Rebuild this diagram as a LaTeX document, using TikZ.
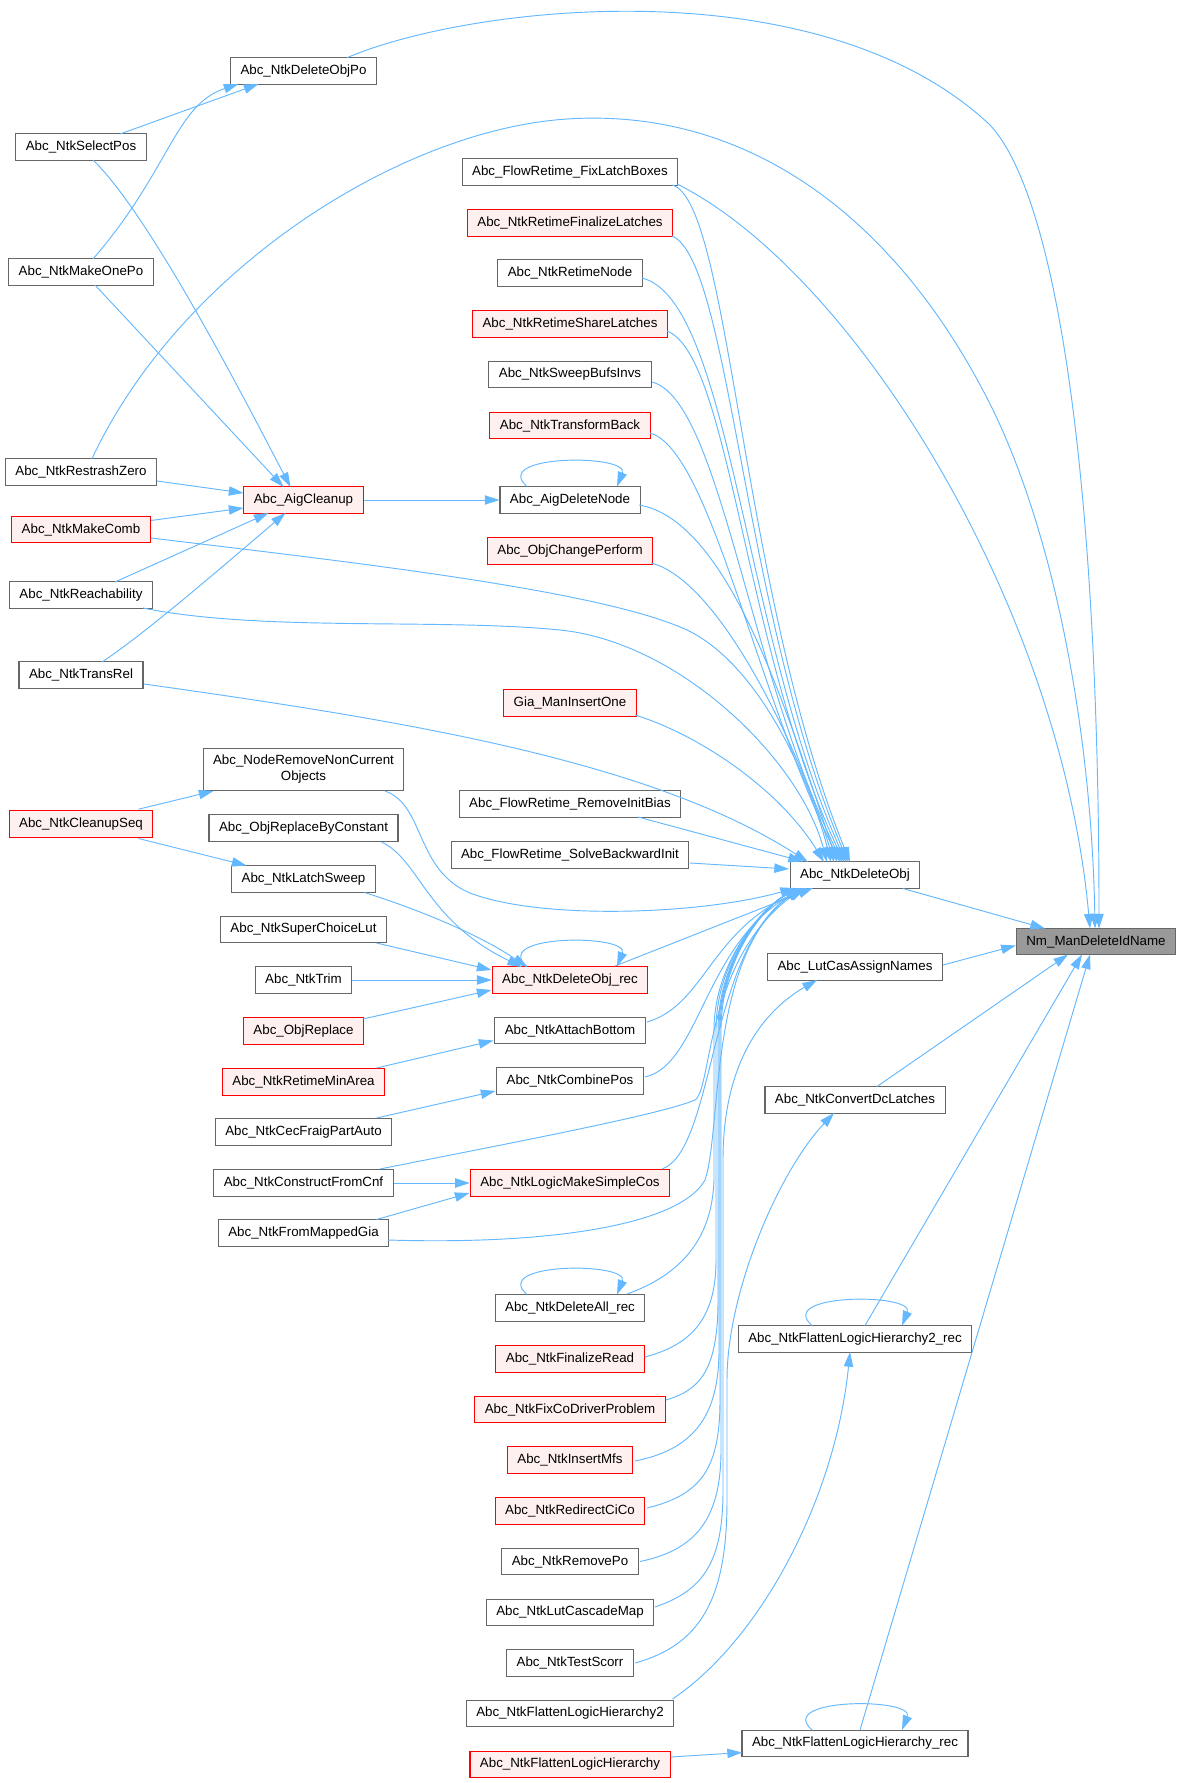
\documentclass[tikz,border=0pt]{standalone}
\usepackage{fontspec}
\setmainfont{Liberation Sans}
\usetikzlibrary{arrows.meta,calc}
\definecolor{edgec}{HTML}{63B8FF}
\definecolor{nodeb}{HTML}{666666}
\definecolor{redfill}{HTML}{FFF0F0}
\definecolor{mainfill}{HTML}{999999}
\definecolor{redb}{HTML}{FF0000}
\begin{document}
\begin{tikzpicture}[x=0.75pt,y=-0.75pt,
 fn/.style={draw=nodeb,fill=white,line width=0.8pt,inner xsep=7.5pt,inner ysep=1pt,minimum height=20pt,font=\fontsize{10}{12}\selectfont,text=black},
 fnr/.style={fn,draw=redb,fill=redfill},
 fnm/.style={fn,fill=mainfill},
 edge/.style={draw=edgec,line width=0.7pt,-{Triangle[length=11pt,width=7pt]}}]
\fill[white] (0,0) rectangle (1179,1783);
\useasboundingbox (0,0) rectangle (1179,1783);
% column A
\node[fn] (SelectPos) at (81,147) {Abc\_NtkSelectPos};
\node[fn] (MakeOnePo) at (81,272) {Abc\_NtkMakeOnePo};
\node[fn] (RestrashZero) at (81,472) {Abc\_NtkRestrashZero};
\node[fnr] (MakeComb) at (81,529.5) {Abc\_NtkMakeComb};
\node[fn] (Reachability) at (81,595) {Abc\_NtkReachability};
\node[fn] (TransRel) at (81,675) {Abc\_NtkTransRel};
\node[fnr] (CleanupSeq) at (81,824) {Abc\_NtkCleanupSeq};
% column B
\node[fn] (DeleteObjPo) at (303.5,71) {Abc\_NtkDeleteObjPo};
\node[fnr] (AigCleanup) at (303.5,500) {Abc\_AigCleanup};
\node[fn,align=center,minimum height=32pt] (NodeRemove) at (303.5,769.5) {Abc\_NodeRemoveNonCurrent\\Objects};
\node[fn] (ReplaceByConst) at (303.5,828) {Abc\_ObjReplaceByConstant};
\node[fn] (LatchSweep) at (303.5,879) {Abc\_NtkLatchSweep};
\node[fn] (SuperChoiceLut) at (303.5,929.5) {Abc\_NtkSuperChoiceLut};
\node[fn] (NtkTrim) at (303.5,980) {Abc\_NtkTrim};
\node[fnr] (ObjReplace) at (303.5,1031) {Abc\_ObjReplace};
\node[fnr] (RetimeMinArea) at (303.5,1082) {Abc\_NtkRetimeMinArea};
\node[fn] (CecFraig) at (303.5,1132) {Abc\_NtkCecFraigPartAuto};
\node[fn] (ConstructFromCnf) at (303.5,1183) {Abc\_NtkConstructFromCnf};
\node[fn] (FromMappedGia) at (303.5,1233) {Abc\_NtkFromMappedGia};
% column C
\node[fn] (FixLatch) at (570,172) {Abc\_FlowRetime\_FixLatchBoxes};
\node[fnr] (FinalizeLatches) at (570,223) {Abc\_NtkRetimeFinalizeLatches};
\node[fn] (RetimeNode) at (570,273) {Abc\_NtkRetimeNode};
\node[fnr] (ShareLatches) at (570,324) {Abc\_NtkRetimeShareLatches};
\node[fn] (SweepBufs) at (570,374.5) {Abc\_NtkSweepBufsInvs};
\node[fnr] (TransformBack) at (570,425.5) {Abc\_NtkTransformBack};
\node[fn] (AigDeleteNode) at (570,500) {Abc\_AigDeleteNode};
\node[fnr] (ObjChange) at (570,551) {Abc\_ObjChangePerform};
\node[fnr] (GiaInsert) at (570,703) {Gia\_ManInsertOne};
\node[fn] (RemoveInitBias) at (570,804) {Abc\_FlowRetime\_RemoveInitBias};
\node[fn] (SolveBackward) at (570,855) {Abc\_FlowRetime\_SolveBackwardInit};
\node[fnr] (DeleteObjRec) at (570,980) {Abc\_NtkDeleteObj\_rec};
\node[fn] (AttachBottom) at (570,1030.5) {Abc\_NtkAttachBottom};
\node[fn] (CombinePos) at (570,1081) {Abc\_NtkCombinePos};
\node[fnr] (MakeSimpleCos) at (570,1183) {Abc\_NtkLogicMakeSimpleCos};
\node[fn] (DeleteAllRec) at (570,1308) {Abc\_NtkDeleteAll\_rec};
\node[fnr] (FinalizeRead) at (570,1359) {Abc\_NtkFinalizeRead};
\node[fnr] (FixCoDriver) at (570,1409.5) {Abc\_NtkFixCoDriverProblem};
\node[fnr] (InsertMfs) at (570,1460) {Abc\_NtkInsertMfs};
\node[fnr] (RedirectCiCo) at (570,1511) {Abc\_NtkRedirectCiCo};
\node[fn] (RemovePo) at (570,1561.5) {Abc\_NtkRemovePo};
\node[fn] (LutCascadeMap) at (570,1612.5) {Abc\_NtkLutCascadeMap};
\node[fn] (TestScorr) at (570,1663) {Abc\_NtkTestScorr};
\node[fn] (FlattenTwo) at (570,1713.5) {Abc\_NtkFlattenLogicHierarchy2};
\node[fnr] (Flatten) at (570,1764.5) {Abc\_NtkFlattenLogicHierarchy};
% column D
\node[fn] (DeleteObj) at (855,875) {Abc\_NtkDeleteObj};
\node[fn] (LutCasAssign) at (855,967) {Abc\_LutCasAssignNames};
\node[fn] (ConvertDc) at (855,1100) {Abc\_NtkConvertDcLatches};
\node[fn] (FlattenTwoRec) at (855,1339) {Abc\_NtkFlattenLogicHierarchy2\_rec};
\node[fn] (FlattenRec) at (855,1743.5) {Abc\_NtkFlattenLogicHierarchy\_rec};
% column E
\node[fnm] (Nm) at (1096,941.5) {Nm\_ManDeleteIdName};

% edges into DeleteObjPo and AigCleanup
\draw[edge] ($(SelectPos)+(39,-13)$) -- ($(DeleteObjPo)+(-45,13)$);
\draw[edge] ($(MakeOnePo)+(12,-13)$) .. controls (170,170) and (175,105) .. ($(DeleteObjPo)+(-65,13)$);
\draw[edge] ($(SelectPos)+(12,13)$) .. controls (150,215) and (245,400) .. ($(AigCleanup)+(-13,-13)$);
\draw[edge] ($(MakeOnePo)+(14,13)$) -- ($(AigCleanup)+(-20,-13)$);
\draw[edge] ($(RestrashZero)+(76,9)$) -- ($(AigCleanup)+(-60,-7)$);
\draw[edge] ($(MakeComb)+(70,-9)$) -- ($(AigCleanup)+(-60,8)$);
\draw[edge] ($(Reachability)+(34,-13)$) -- ($(AigCleanup)+(-35,13)$);
\draw[edge] ($(TransRel)+(21,-13)$) .. controls (150,630) and (230,560) .. ($(AigCleanup)+(-18,13)$);
\draw[edge] (AigCleanup.east) -- (AigDeleteNode.west);

% self loops
\foreach \n in {AigDeleteNode,DeleteObjRec,DeleteAllRec,FlattenTwoRec,FlattenRec}{
  \draw[edge] ($(\n)+(-43,-13.5)$) .. controls ($(\n)+(-80,-46)$) and ($(\n)+(60,-46)$) .. ($(\n)+(47,-13.5)$);
}

% edges into DeleteObj from above
\draw[edge] ($(FixLatch)+(102,13)$) .. controls (730,200) and (740,590) .. ($(DeleteObj)+(-5,-13)$);
\draw[edge] ($(FinalizeLatches)+(102,13)$) .. controls (730,260) and (742,610) .. ($(DeleteObj)+(-7,-13)$);
\draw[edge] ($(RetimeNode)+(72,5)$) .. controls (730,300) and (742,630) .. ($(DeleteObj)+(-9,-13)$);
\draw[edge] ($(ShareLatches)+(97,7)$) .. controls (730,355) and (744,650) .. ($(DeleteObj)+(-11,-13)$);
\draw[edge] ($(SweepBufs)+(82,7.5)$) .. controls (720,400) and (748,670) .. ($(DeleteObj)+(-13,-13)$);
\draw[edge] ($(TransformBack)+(80,7.5)$) .. controls (710,450) and (755,690) .. ($(DeleteObj)+(-15,-13)$);
\draw[edge] ($(AigDeleteNode)+(69,5)$) .. controls (730,520) and (790,720) .. ($(DeleteObj)+(-18,-13)$);
\draw[edge] ($(ObjChange)+(81,12)$) .. controls (720,580) and (800,750) .. ($(DeleteObj)+(-21,-13)$);
\draw[edge] ($(MakeComb)+(70,8.5)$) .. controls (350,562) and (600,590) .. (687,630) .. controls (760,665) and (810,780) .. ($(DeleteObj)+(-24,-13)$);
\draw[edge] ($(Reachability)+(62,13)$) .. controls (260,632) and (440,618) .. (560,630) .. controls (680,642) and (800,760) .. ($(DeleteObj)+(-28,-13)$);
\draw[edge] ($(GiaInsert)+(65,12)$) .. controls (700,735) and (780,790) .. ($(DeleteObj)+(-31,-13)$);
\draw[edge] ($(TransRel)+(63,9)$) .. controls (400,720) and (650,760) .. ($(DeleteObj)+(-47,-13)$);
\draw[edge] ($(RemoveInitBias)+(68,13)$) -- ($(DeleteObj)+(-52,-13.5)$);
\draw[edge] ($(SolveBackward)+(120,8)$) -- ($(DeleteObj)+(-66,-6)$);
\draw[edge] ($(NodeRemove)+(81.5,21.5)$) .. controls (425,805) and (415,870) .. (470,893) .. controls (540,920) and (700,915) .. ($(DeleteObj)+(-60,13)$);

% edges into DeleteObj from below
\draw[edge] ($(DeleteObjRec)+(45,-14)$) -- ($(DeleteObj)+(-42,13)$);
\draw[edge] ($(AttachBottom)+(77,-8.5)$) .. controls (705,1005) and (710,930) .. ($(DeleteObj)+(-48,13)$);
\draw[edge] ($(CombinePos)+(75,-4)$) .. controls (700,1065) and (705,940) .. ($(DeleteObj)+(-50,13)$);
\draw[edge] ($(ConstructFromCnf)+(76.5,-14)$) .. controls (500,1145) and (660,1115) .. (695,1100) .. controls (712,1090) and (705,960) .. ($(DeleteObj)+(-52,13)$);
\draw[edge] ($(MakeSimpleCos)+(92,-14)$) .. controls (715,1150) and (708,950) .. ($(DeleteObj)+(-53,13)$);
\draw[edge] ($(FromMappedGia)+(84.5,7)$) .. controls (550,1245) and (680,1225) .. (705,1180) .. controls (722,1130) and (708,955) .. ($(DeleteObj)+(-54,13)$);
\draw[edge] ($(DeleteAllRec)+(57,-14)$) .. controls (680,1275) and (712,1240) .. (714,1180) -- (714,1030) .. controls (714,960) and (765,905) .. ($(DeleteObj)+(-55,13)$);
\draw[edge] ($(FinalizeRead)+(75,-2)$) .. controls (690,1345) and (716,1320) .. (716,1260) -- (716,1030) .. controls (716,958) and (765,905) .. ($(DeleteObj)+(-55,13)$);
\draw[edge] ($(FixCoDriver)+(96,-9.5)$) .. controls (700,1390) and (718,1370) .. (718,1300) -- (718,1030) .. controls (718,958) and (765,905) .. ($(DeleteObj)+(-55,13)$);
\draw[edge] ($(InsertMfs)+(65,1)$) .. controls (690,1450) and (719,1420) .. (719,1350) -- (719,1030) .. controls (719,958) and (765,905) .. ($(DeleteObj)+(-55,13)$);
\draw[edge] ($(RedirectCiCo)+(77,-3)$) .. controls (700,1495) and (720,1470) .. (720,1400) -- (720,1030) .. controls (720,958) and (765,905) .. ($(DeleteObj)+(-55,13)$);
\draw[edge] ($(RemovePo)+(70,0)$) .. controls (695,1550) and (721,1520) .. (721,1450) -- (721,1030) .. controls (721,958) and (765,905) .. ($(DeleteObj)+(-55,13)$);

% other middle edges
\draw[edge] ($(LutCascadeMap)+(85,-5.5)$) .. controls (705,1590) and (723,1560) .. (723,1490) -- (723,1160) .. controls (723,1060) and (765,1010) .. ($(LutCasAssign)+(-38,13)$);
\draw[edge] ($(TestScorr)+(65,0)$) .. controls (700,1645) and (727,1600) .. (727,1500) -- (727,1380) .. controls (727,1290) and (780,1170) .. ($(ConvertDc)+(-21,13)$);
\draw[edge] ($(FlattenTwo)+(102.5,-14.5)$) .. controls (760,1640) and (835,1500) .. ($(FlattenTwoRec)+(-5,13)$);
\draw[edge] ($(Flatten)+(100.5,-7.5)$) -- ($(FlattenRec)+(-113,9)$);

% edges into Nm
\draw[edge] ($(FlattenTwoRec)+(10,-13.5)$) -- ($(Nm)+(-14,13)$);
\draw[edge] ($(FlattenRec)+(5,-13.5)$) -- ($(Nm)+(-6,13)$);
\draw[edge] ($(ConvertDc)+(22,-13.5)$) -- ($(Nm)+(-28,13)$);
\draw[edge] ($(LutCasAssign)+(88,-2)$) -- ($(Nm.west)+(0,4)$);
\draw[edge] ($(DeleteObj)+(48,13.5)$) -- ($(Nm)+(-51,-13)$);
\draw[edge] ($(FixLatch)+(107,12)$) .. controls (850,270) and (1060,600) .. ($(Nm)+(-6,-13)$);
\draw[edge] ($(DeleteObjPo)+(43.5,-13.3)$) .. controls (470,5) and (820,-35) .. (990,125) .. controls (1060,200) and (1099,500) .. ($(Nm)+(3,-13)$);
\draw[edge] ($(RestrashZero)+(11,-13.3)$) .. controls (180,270) and (400,130) .. (567,119) .. controls (750,107) and (900,220) .. (994,412) .. controls (1060,550) and (1092,750) .. ($(Nm)+(-1,-13)$);

% left-side edges into column B/C
\draw[edge] ($(CleanupSeq)+(57.5,-14.8)$) -- ($(NodeRemove)+(-90,21.5)$);
\draw[edge] ($(CleanupSeq)+(57.5,14.5)$) -- ($(LatchSweep)+(-57,-13.5)$);
\draw[edge] ($(ReplaceByConst)+(78,14)$) .. controls (420,860) and (425,920) .. ($(DeleteObjRec)+(-48,-13)$);
\draw[edge] ($(LatchSweep)+(61,13.5)$) .. controls (420,910) and (480,935) .. ($(DeleteObjRec)+(-43,-13)$);
\draw[edge] ($(SuperChoiceLut)+(73,13.5)$) -- ($(DeleteObjRec)+(-78.5,-10)$);
\draw[edge] (NtkTrim.east) -- (DeleteObjRec.west);
\draw[edge] ($(ObjReplace)+(59.5,-12)$) -- ($(DeleteObjRec)+(-78.5,10)$);
\draw[edge] ($(RetimeMinArea)+(73,-14)$) -- ($(AttachBottom)+(-76.5,10)$);
\draw[edge] ($(CecFraig)+(73,-14)$) -- ($(CombinePos)+(-74.5,10)$);
\draw[edge] (ConstructFromCnf.east) -- (MakeSimpleCos.west);
\draw[edge] ($(FromMappedGia)+(73,-13.5)$) -- ($(MakeSimpleCos)+(-100.5,10)$);
\end{tikzpicture}
\end{document}
